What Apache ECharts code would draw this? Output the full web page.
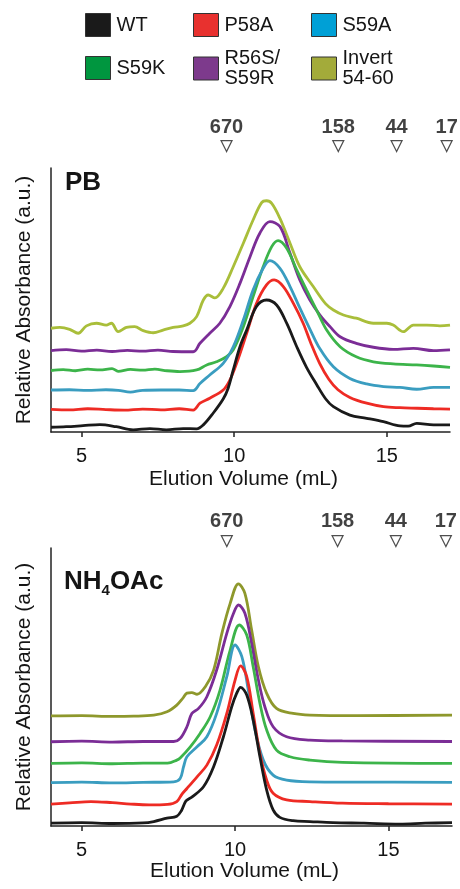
<!DOCTYPE html>
<html>
<head>
<meta charset="utf-8">
<script src="https://cdn.jsdelivr.net/npm/echarts@6/dist/echarts.min.js"></script>
<style>
html,body{margin:0;padding:0;background:#fff;}
#chart{width:460px;height:889px;}
</style>
</head>
<body>
<div id="chart"></div>
<script>
// ---------- DATA ----------
const seriesNames = ['WT', 'P58A', 'S59A', 'S59K', 'R56S/S59R', 'Invert 54-60'];
const xTickValues = [5, 10, 15];
const markerLabels = ['670', '158', '44', '17'];
const markerXTop = [9.75, 13.41, 15.32, 16.96];
const markerXBottom = [9.73, 13.34, 15.24, 16.87];

// Panel PB: [elution volume (mL), relative absorbance (offset, a.u.)]
const pbWT = [[4.0,1.8],[4.5,2.0],[5.05,2.4],[5.6,2.8],[6.14,2.0],[6.69,0.8],[7.24,1.3],[7.78,0.8],[8.33,1.3],[8.77,1.2],[8.99,2.7],[9.31,7.1],[9.64,12.5],[9.8,16.5],[9.97,23.5],[10.19,32.3],[10.41,38.6],[10.73,47.5],[11.06,50.0],[11.39,48.1],[11.72,41.2],[12.05,32.3],[12.37,24.5],[12.7,18.0],[13.0,12.5],[13.25,9.6],[13.79,6.4],[14.34,5.2],[14.89,3.9],[15.43,2.3],[15.7,2.2],[15.98,3.3],[16.53,2.7],[17.07,2.7]];
const pbP58A = [[4.0,8.6],[4.6,8.4],[5.2,8.8],[5.8,8.5],[6.4,8.3],[7.0,8.7],[7.6,8.4],[8.2,8.8],[8.66,8.3],[8.88,10.9],[9.2,12.8],[9.64,15.9],[9.86,19.7],[10.08,26.0],[10.41,37.4],[10.73,48.7],[11.06,55.7],[11.31,57.6],[11.61,55.1],[11.94,48.7],[12.26,41.2],[12.5,34.0],[12.8,26.0],[13.1,20.0],[13.4,16.0],[13.79,13.1],[14.34,10.9],[14.89,9.6],[15.43,9.2],[16.0,9.0],[16.53,8.8],[17.07,8.7]];
const pbS59A = [[4.0,15.9],[4.6,16.0],[5.2,15.8],[5.8,16.0],[6.2,15.8],[6.6,15.1],[7.0,15.8],[7.6,15.9],[8.2,15.9],[8.66,15.7],[8.88,18.4],[9.2,21.6],[9.64,26.0],[9.97,32.3],[10.3,42.4],[10.62,53.8],[10.95,62.0],[11.17,64.9],[11.5,62.0],[11.83,55.1],[12.15,47.0],[12.48,39.0],[12.81,31.5],[13.25,24.7],[13.79,20.3],[14.34,18.2],[14.89,17.2],[15.43,16.9],[15.98,16.2],[16.53,16.9],[17.07,16.9]];
const pbS59K = [[4.0,23.3],[4.4,23.6],[4.8,23.2],[5.2,23.8],[5.6,23.5],[6.0,24.0],[6.2,23.0],[6.6,23.7],[7.0,23.4],[7.4,23.8],[7.8,23.2],[8.22,22.9],[8.77,23.5],[9.1,25.4],[9.42,26.6],[9.75,28.5],[9.97,31.1],[10.3,39.9],[10.62,51.3],[10.95,62.6],[11.23,70.2],[11.44,72.5],[11.72,69.6],[12.05,61.4],[12.37,53.8],[12.7,46.2],[13.03,38.6],[13.47,32.3],[14.0,28.5],[14.56,26.6],[15.21,25.8],[15.98,25.4],[16.53,25.0],[17.07,24.5]];
const pbR56S = [[4.0,30.8],[4.5,31.2],[5.0,30.6],[5.5,31.0],[6.0,30.5],[6.5,30.9],[7.0,30.6],[7.5,31.0],[8.0,30.5],[8.66,30.4],[8.88,33.6],[9.2,37.4],[9.53,41.2],[9.86,47.5],[10.19,56.3],[10.52,66.4],[10.84,75.3],[11.17,79.7],[11.5,77.8],[11.83,67.7],[12.15,57.6],[12.48,50.0],[12.81,44.3],[13.14,39.9],[13.47,36.1],[14.0,33.6],[14.56,32.1],[15.21,31.3],[15.87,31.7],[16.53,30.8],[17.07,31.1]];
const pbInvert = [[4.0,39.3],[4.29,39.6],[4.61,38.9],[4.89,37.4],[5.16,40.2],[5.49,41.2],[5.81,40.5],[5.98,41.2],[6.2,38.0],[6.47,39.6],[6.74,39.9],[7.02,38.4],[7.35,37.6],[7.67,38.6],[8.0,39.6],[8.33,40.2],[8.55,41.2],[8.77,43.7],[8.99,50.0],[9.15,51.9],[9.37,50.8],[9.64,54.4],[9.97,62.6],[10.3,71.5],[10.62,80.3],[10.9,86.9],[11.06,87.6],[11.23,86.6],[11.5,80.9],[11.83,71.5],[12.15,62.6],[12.59,55.1],[13.0,48.5],[13.25,46.2],[13.58,44.3],[14.0,43.1],[14.56,41.2],[15.0,41.2],[15.21,40.5],[15.54,38.0],[15.87,40.5],[16.31,40.5],[16.74,40.2],[17.07,40.5]];

// Panel NH4OAc
const naWT = [[4.0,1.0],[5.0,1.2],[6.0,0.9],[7.0,1.1],[7.35,1.6],[7.78,2.8],[8.1,3.5],[8.25,5.5],[8.4,9.0],[8.6,10.5],[8.97,14.1],[9.3,21.3],[9.62,32.1],[9.89,42.9],[10.05,47.7],[10.18,49.9],[10.38,47.1],[10.59,38.1],[10.81,24.9],[11.03,12.9],[11.24,5.8],[11.46,3.1],[11.89,1.9],[12.44,1.6],[13.19,1.2],[14.2,1.0],[15.36,0.7],[16.2,1.0],[17.07,1.2]];
const naP58A = [[4.0,7.9],[4.6,8.3],[5.3,8.8],[6.0,8.4],[6.6,7.9],[7.2,7.6],[7.8,7.8],[8.1,8.8],[8.27,11.5],[8.43,13.5],[8.76,17.7],[9.08,21.9],[9.4,29.1],[9.73,40.5],[10.0,52.5],[10.18,57.6],[10.38,53.7],[10.59,40.5],[10.81,26.1],[11.03,16.5],[11.24,11.8],[11.68,9.4],[12.44,8.8],[13.5,8.2],[15.0,8.0],[17.07,7.9]];
const naS59A = [[4.0,15.6],[5.0,15.8],[6.0,15.5],[7.0,15.7],[8.0,15.9],[8.21,17.1],[8.32,21.3],[8.43,24.9],[8.76,28.5],[9.08,32.1],[9.4,40.5],[9.73,53.7],[10.0,65.1],[10.22,60.9],[10.43,48.9],[10.65,34.5],[10.92,23.7],[11.24,18.3],[11.68,16.5],[12.44,15.9],[14.0,15.8],[17.07,15.7]];
const naS59K = [[4.0,22.5],[5.0,22.7],[6.0,22.4],[7.0,22.6],[7.8,22.6],[8.1,23.7],[8.21,24.5],[8.54,28.5],[8.86,33.3],[9.19,39.3],[9.51,48.9],[9.84,63.3],[10.14,72.3],[10.38,68.7],[10.59,57.3],[10.81,44.1],[11.03,34.5],[11.35,27.3],[11.79,24.9],[12.44,23.7],[13.5,22.9],[17.07,22.5]];
const naR56S = [[4.0,30.3],[5.0,30.5],[6.0,30.2],[7.0,30.4],[8.0,30.4],[8.21,31.5],[8.43,35.7],[8.59,40.5],[8.81,42.3],[9.08,46.5],[9.4,56.1],[9.73,69.3],[9.95,76.5],[10.11,79.5],[10.32,76.5],[10.54,65.7],[10.76,52.5],[10.97,42.9],[11.24,35.7],[11.68,32.1],[12.44,30.9],[13.5,30.6],[17.07,30.4]];
const naInvert = [[4.0,39.6],[5.0,39.7],[6.0,39.4],[6.7,39.5],[7.35,39.9],[7.78,41.1],[8.1,43.5],[8.3,46.0],[8.43,47.8],[8.59,48.0],[8.76,47.4],[9.03,50.1],[9.3,56.1],[9.57,69.3],[9.84,80.1],[10.11,87.1],[10.32,83.7],[10.54,70.5],[10.76,57.3],[11.03,47.7],[11.35,42.3],[11.89,40.5],[12.44,39.9],[14.0,39.7],[17.07,39.9]];

// ---------- STYLE ----------
const FONT = 'Liberation Sans, Arial, Helvetica, sans-serif';
const TXT = '#151515';
const lineColorsTop = ['#1a1a1a', '#ee2b24', '#3a9dc0', '#3cb44a', '#7b2d96', '#a9be3a'];
const lineColorsBottom = ['#1a1a1a', '#ee2b24', '#3a9dc0', '#3cb44a', '#7b2d96', '#8e982c'];
const legendColors = ['#1a1a1a', '#e8312f', '#00a0d6', '#00963f', '#7d3a8c', '#a3ab3a'];
const legendLabel = {'R56S/S59R': 'R56S/\nS59R', 'Invert 54-60': 'Invert\n54-60'};

const topData = [pbWT, pbP58A, pbS59A, pbS59K, pbR56S, pbInvert];
const botData = [naWT, naP58A, naS59A, naS59K, naR56S, naInvert];

const series = [];
function addLines(dataSets, colors, idx) {
  for (let i = dataSets.length - 1; i >= 0; i--) {
    series.push({
      type: 'line', name: seriesNames[i], xAxisIndex: idx, yAxisIndex: idx,
      data: dataSets[i], showSymbol: false, smooth: 0.35,
      lineStyle: {color: colors[i], width: 2.8}, itemStyle: {color: colors[i]},
      silent: true, animation: false, z: 3
    });
  }
}
addLines(topData, lineColorsTop, 0);
addLines(botData, lineColorsBottom, 1);

function addMarkers(xs, yPos, idx) {
  series.push({
    type: 'scatter', xAxisIndex: idx, yAxisIndex: idx, clip: false, silent: true, animation: false,
    data: xs.map((x, i) => [x, yPos, markerLabels[i]]),
    symbol: 'triangle', symbolRotate: 180, symbolSize: [11, 11],
    itemStyle: {color: '#fff', borderColor: '#222', borderWidth: 1.2},
    label: {show: true, position: 'top', distance: 3, formatter: p => p.data[2],
      fontFamily: FONT, fontWeight: 'bold', fontSize: 20, color: '#111'},
    z: 5
  });
}
addMarkers(markerXTop, 108.3, 0);
addMarkers(markerXBottom, 102.5, 1);

const legendPos = [
  {left: 85, top: 13}, {left: 193, top: 13}, {left: 311, top: 13},
  {left: 85, top: 56}, {left: 193, top: 48}, {left: 311, top: 48}
];
const legends = seriesNames.map((n, i) => ({
  left: legendPos[i].left, top: legendPos[i].top, padding: 0, selectedMode: false,
  icon: 'rect', itemWidth: 25, itemHeight: 23,
  itemStyle: {borderColor: '#333', borderWidth: 1},
  data: [{name: n, itemStyle: {color: legendColors[i], borderColor: '#333', borderWidth: 1}}],
  formatter: name => legendLabel[name] || name,
  textStyle: {fontFamily: FONT, fontSize: 20, color: TXT, lineHeight: 20.5, padding: [0, 0, 0, 1]}
}));

function xAx(idx, gap, margin) {
  return {
    type: 'value', gridIndex: idx, min: 4, max: 17.07,
    axisLine: {show: true, onZero: false, lineStyle: {color: '#222', width: 1.5}},
    axisTick: {show: true, customValues: xTickValues, length: 5, lineStyle: {color: '#222', width: 1.5}},
    axisLabel: {customValues: xTickValues, fontFamily: FONT, fontSize: 20, color: TXT, margin: margin},
    splitLine: {show: false},
    name: 'Elution Volume (mL)', nameLocation: 'middle', nameGap: gap,
    nameTextStyle: {fontFamily: FONT, fontSize: 21, color: TXT, padding: [0, 14, 0, 0]}
  };
}
function yAx(idx) {
  return {
    type: 'value', gridIndex: idx, min: 0, max: 100,
    axisLine: {show: true, lineStyle: {color: '#222', width: 1.5}},
    axisTick: {show: false}, axisLabel: {show: false}, splitLine: {show: false},
    name: 'Relative Absorbance (a.u.)', nameLocation: 'middle', nameGap: 16,
    nameTextStyle: {fontFamily: FONT, fontSize: 21, color: TXT}
  };
}

const chart = echarts.init(document.getElementById('chart'), null, {renderer: 'canvas'});
chart.setOption({
  animation: false,
  backgroundColor: '#fff',
  title: [
    {text: 'PB', left: 60, top: 165, textStyle: {fontFamily: FONT, fontSize: 26, fontWeight: 'bold', color: TXT}},
    {text: 'NH{sub|4}OAc', left: 59, top: 561,
      textStyle: {fontFamily: FONT, fontSize: 26, fontWeight: 'bold', color: TXT, lineHeight: 32,
        rich: {sub: {fontFamily: FONT, fontSize: 15, fontWeight: 'bold', color: TXT, verticalAlign: 'bottom', lineHeight: 15}}}}
  ],
  legend: legends,
  grid: [
    {left: 51, top: 168, width: 399, height: 264},
    {left: 51, top: 548, width: 401, height: 278}
  ],
  xAxis: [xAx(0, 37, 14), xAx(1, 35, 14)],
  yAxis: [yAx(0), yAx(1)],
  series: series
});
</script>
</body>
</html>
